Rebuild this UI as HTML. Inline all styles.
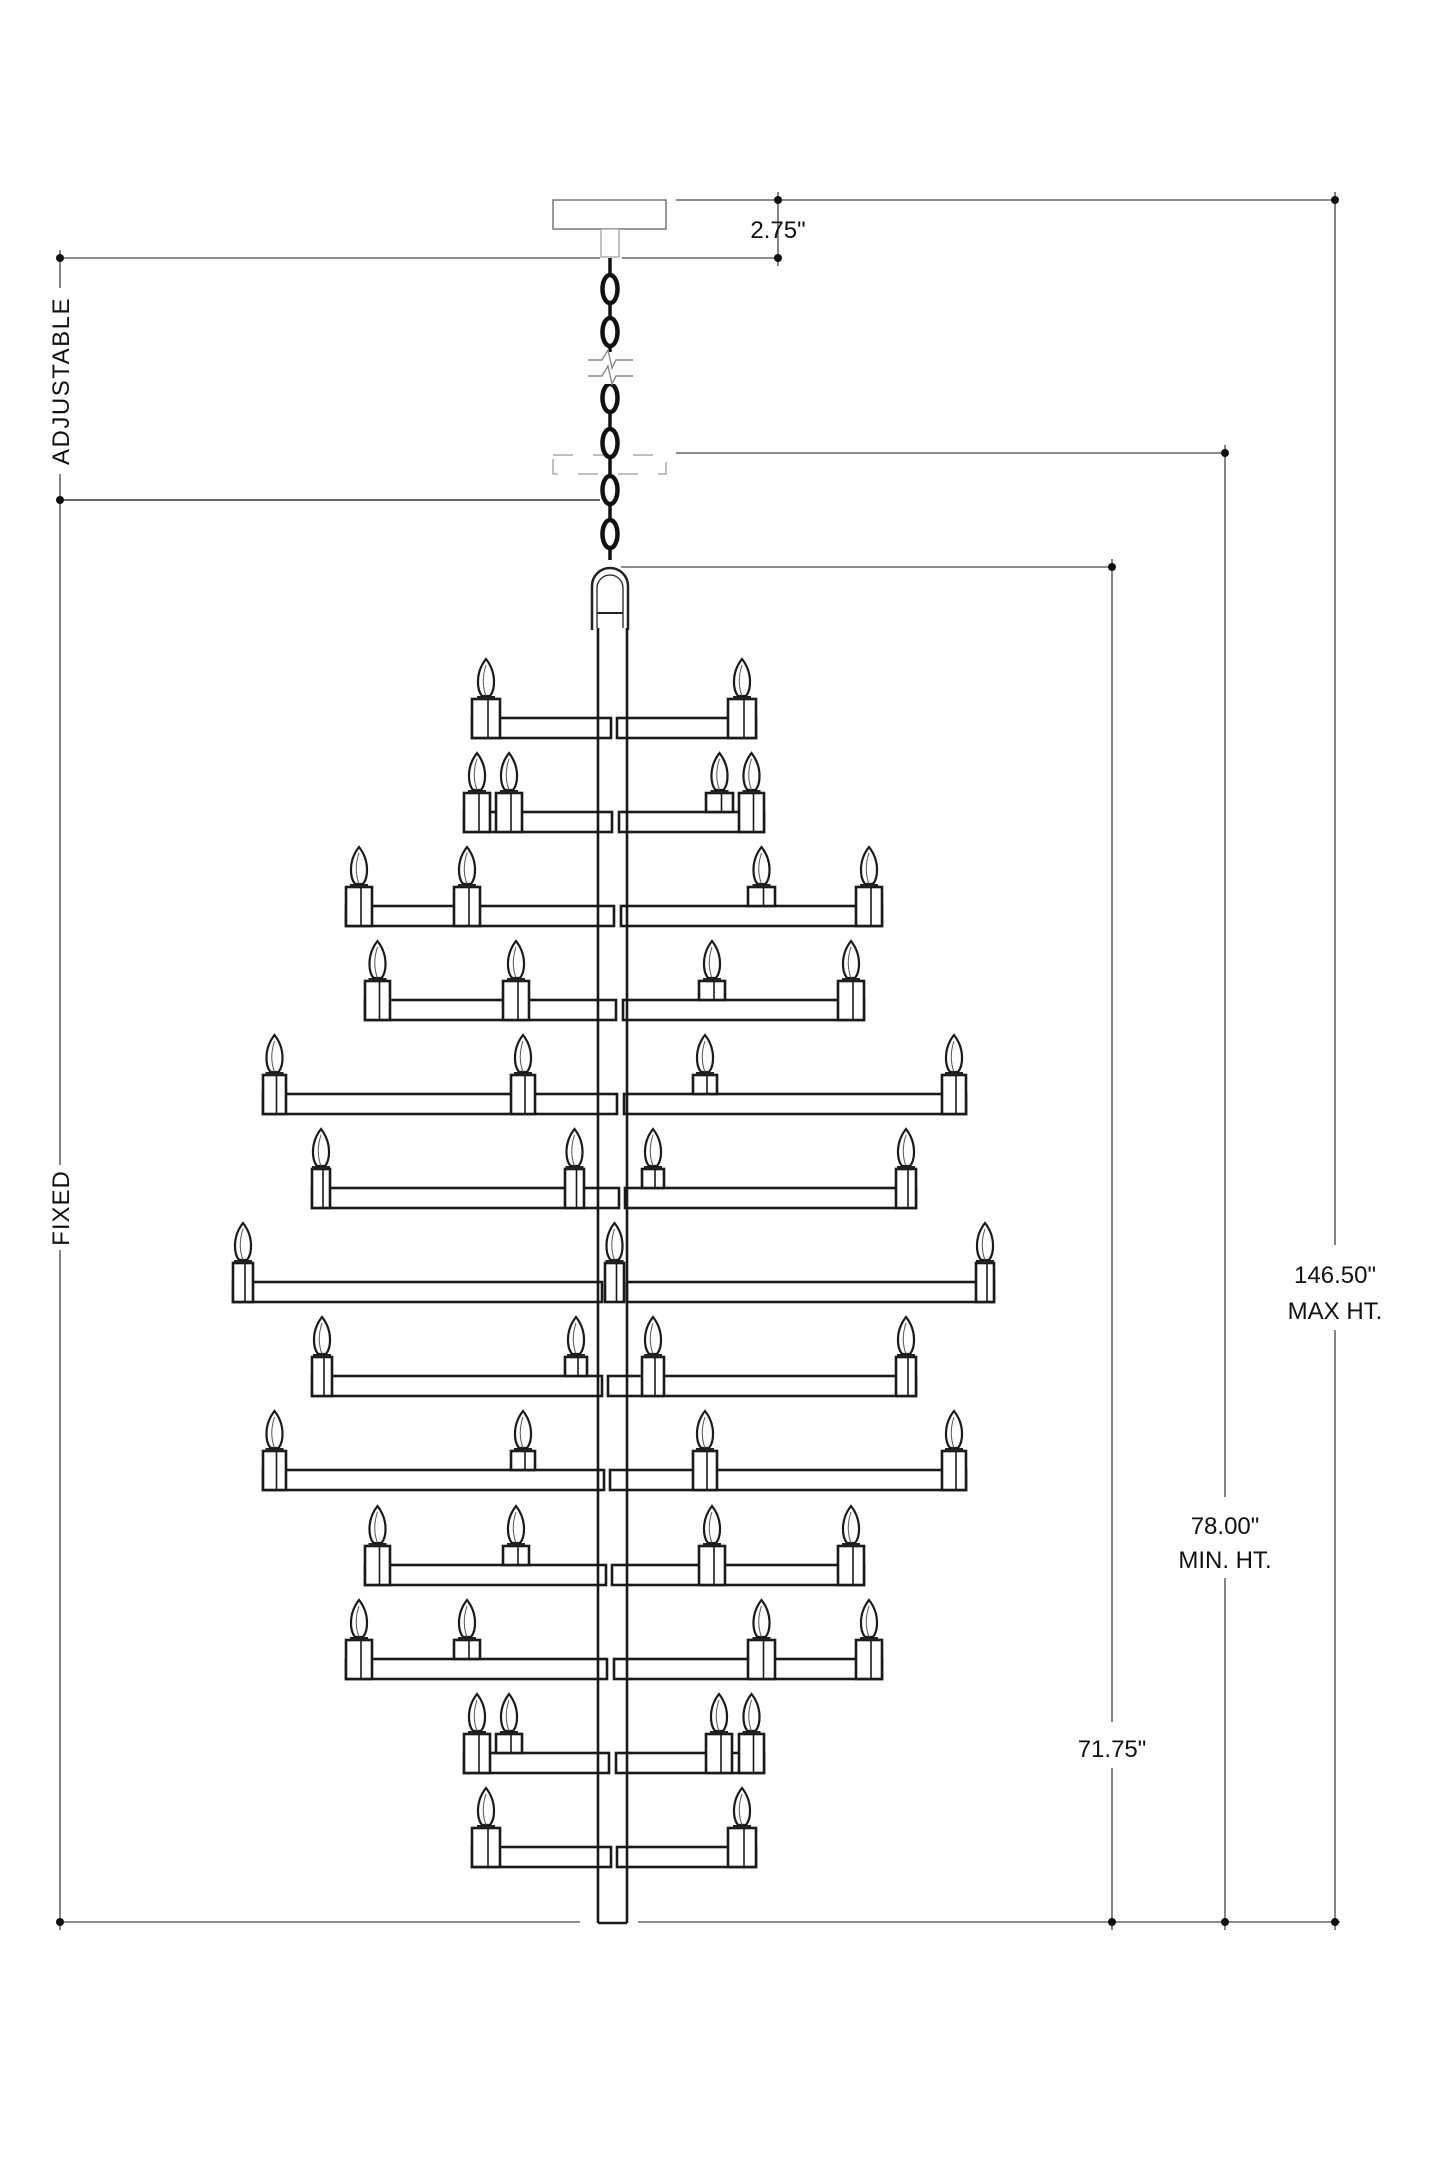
<!DOCTYPE html>
<html><head><meta charset="utf-8"><style>
html,body{margin:0;padding:0;background:#fff;}
svg{display:block;}
text{font-family:"Liberation Sans",sans-serif;fill:#111;}
</style></head><body>
<svg id="s" width="1445" height="2168" viewBox="0 0 1445 2168" xmlns="http://www.w3.org/2000/svg">
<rect width="1445" height="2168" fill="#fff"/>
<g stroke="#666" stroke-width="1.6" fill="none">
  <line x1="676" y1="200" x2="1337" y2="200"/>
  <line x1="60" y1="258" x2="600" y2="258"/>
  <line x1="622" y1="258" x2="778" y2="258"/>
  <line x1="778" y1="192" x2="778" y2="266"/>
  <line x1="1335" y1="192" x2="1335" y2="1245"/>
  <line x1="1335" y1="1330" x2="1335" y2="1930"/>
  <line x1="676" y1="453" x2="1227" y2="453"/>
  <line x1="1225" y1="445" x2="1225" y2="1497"/>
  <line x1="1225" y1="1578" x2="1225" y2="1930"/>
  <line x1="621" y1="567" x2="1114" y2="567"/>
  <line x1="1112" y1="559" x2="1112" y2="1722"/>
  <line x1="1112" y1="1768" x2="1112" y2="1930"/>
  <line x1="60" y1="500" x2="600" y2="500" stroke="#333"/>
  <line x1="60" y1="250" x2="60" y2="288"/>
  <line x1="60" y1="474" x2="60" y2="1165"/>
  <line x1="60" y1="1250" x2="60" y2="1930"/>
  <line x1="60" y1="1922" x2="580" y2="1922"/>
  <line x1="638" y1="1922" x2="1340" y2="1922"/>
</g>
<g fill="#111">
  <circle cx="778" cy="200" r="4"/><circle cx="1335" cy="200" r="4"/>
  <circle cx="778" cy="258" r="4"/><circle cx="60" cy="258" r="4"/>
  <circle cx="60" cy="500" r="4"/><circle cx="1225" cy="453" r="4"/>
  <circle cx="1112" cy="567" r="4"/>
  <circle cx="60" cy="1922" r="4"/><circle cx="1112" cy="1922" r="4"/>
  <circle cx="1225" cy="1922" r="4"/><circle cx="1335" cy="1922" r="4"/>
</g>
<rect x="553" y="200" width="113" height="29" fill="#fff" stroke="#777" stroke-width="1.5"/>
<rect x="601" y="229" width="18" height="28" fill="#fff" stroke="#999" stroke-width="1.2"/>
<rect x="553" y="455" width="113" height="19" fill="none" stroke="#aaa" stroke-width="1.5" stroke-dasharray="20,20"/>
<g stroke="#111" fill="none">
  <line x1="610" y1="258" x2="610" y2="560" stroke-width="3.5"/>
  <ellipse cx="610" cy="289" rx="7.5" ry="14" stroke-width="4.5" fill="#fff"/>
  <ellipse cx="610" cy="332" rx="7.5" ry="14" stroke-width="4.5" fill="#fff"/>
  <ellipse cx="610" cy="398" rx="7.5" ry="14" stroke-width="4.5" fill="#fff"/>
  <ellipse cx="610" cy="443" rx="7.5" ry="14" stroke-width="4.5" fill="#fff"/>
  <ellipse cx="610" cy="490" rx="7.5" ry="14" stroke-width="4.5" fill="#fff"/>
  <ellipse cx="610" cy="534" rx="7.5" ry="14" stroke-width="4.5" fill="#fff"/>
</g>
<rect x="590" y="352" width="40" height="32" fill="#fff"/>
<g stroke="#888" fill="none" stroke-width="1.4">
  <polyline points="588,360 602,360 608,350 612,368 616,360 633,360"/>
  <polyline points="588,376 602,376 608,366 612,384 616,376 633,376"/>
</g>
<path d="M592,630 L592,586 A18,18 0 0 1 628,586 L628,630" fill="#fff" stroke="#222" stroke-width="2.5"/>
<path d="M597,628 L597,588 A13,13 0 0 1 623,588 L623,628" fill="none" stroke="#222" stroke-width="1.3"/>
<line x1="597" y1="613" x2="623" y2="613" stroke="#222" stroke-width="2"/>
<g id="lamp"></g>
<rect x="44" y="288" width="32" height="186" fill="#fff"/>
<text x="0" y="0" font-size="24" text-anchor="middle" transform="translate(69,381) rotate(-90)" letter-spacing="1.5">ADJUSTABLE</text>
<rect x="44" y="1165" width="32" height="85" fill="#fff"/>
<text x="0" y="0" font-size="24" text-anchor="middle" transform="translate(69,1208) rotate(-90)" letter-spacing="1">FIXED</text>
<text x="778" y="238" font-size="24" text-anchor="middle">2.75"</text>
<text x="1335" y="1283" font-size="24" text-anchor="middle">146.50"</text>
<text x="1335" y="1319" font-size="24" text-anchor="middle">MAX HT.</text>
<text x="1225" y="1534" font-size="24" text-anchor="middle">78.00"</text>
<text x="1225" y="1568" font-size="24" text-anchor="middle">MIN. HT.</text>
<text x="1112" y="1757" font-size="24" text-anchor="middle">71.75"</text>
</svg>
<script>
var T=[
[738,[472,611],[617,756],[[472,500,1],[728,756,1]]],
[832,[464,612],[619,764],[[464,490,1],[496,522,1],[706,733,0],[739,764,1]]],
[926,[346,614],[621,882],[[346,372,1],[454,480,1],[748,775,0],[856,882,1]]],
[1020,[365,616],[623,864],[[365,390,1],[503,529,1],[699,725,0],[838,864,1]]],
[1114,[263,617],[624,966],[[263,286,1],[511,535,1],[693,717,0],[942,966,1]]],
[1208,[312,619],[625,916],[[312,330,1],[565,584,1],[642,664,0],[896,916,1]]],
[1302,[233,602],[627,994],[[233,253,1],[605,624,1],[976,994,1]]],
[1396,[312,602],[608,916],[[312,332,1],[565,587,0],[642,664,1],[896,916,1]]],
[1490,[263,604],[610,966],[[263,286,1],[511,535,0],[693,717,1],[942,966,1]]],
[1585,[365,606],[612,864],[[365,390,1],[503,529,0],[699,725,1],[838,864,1]]],
[1679,[346,607],[614,882],[[346,372,1],[454,480,0],[748,775,1],[856,882,1]]],
[1773,[464,609],[616,764],[[464,490,1],[496,522,0],[706,732,1],[739,764,1]]],
[1867,[472,611],[617,756],[[472,500,1],[728,756,1]]]
];
var h='';
var S='stroke="#1a1a1a" stroke-width="2.6"';
T.forEach(function(t){var B=t[0];
 h+='<rect x="'+t[1][0]+'" y="'+(B-20)+'" width="'+(t[1][1]-t[1][0])+'" height="20" fill="#fff" '+S+'/>';
 h+='<rect x="'+t[2][0]+'" y="'+(B-20)+'" width="'+(t[2][1]-t[2][0])+'" height="20" fill="#fff" '+S+'/>';
});
h+='<line x1="598" y1="628" x2="598" y2="1923" '+S+'/><line x1="627" y1="628" x2="627" y2="1923" '+S+'/><line x1="598" y1="1923" x2="627" y2="1923" '+S+'/>';
T.forEach(function(t){var B=t[0];
 t[3].forEach(function(c){var x1=c[0],x2=c[1],w=x2-x1,cx=(x1+x2)/2,top=B-39,hh=c[2]?39:19;
  h+='<rect x="'+x1+'" y="'+top+'" width="'+w+'" height="'+hh+'" fill="#fff" '+S+'/>';
  h+='<line x1="'+(cx+2)+'" y1="'+top+'" x2="'+(cx+2)+'" y2="'+(top+hh)+'" stroke="#1a1a1a" stroke-width="1.6"/>';
  h+='<rect x="'+(cx-9)+'" y="'+(top-3)+'" width="18" height="3" fill="#222"/>';
  var ft=top-40,fb=top-3;
  h+='<path d="M'+cx+','+ft+' C'+(cx-11)+','+(ft+14)+' '+(cx-9)+','+(fb-6)+' '+(cx-4)+','+fb+' L'+(cx+4)+','+fb+' C'+(cx+9)+','+(fb-6)+' '+(cx+11)+','+(ft+14)+' '+cx+','+ft+' Z" fill="#fff" stroke="#1a1a1a" stroke-width="2.2"/>';
  h+='<path d="M'+cx+','+(ft+6)+' C'+(cx-4)+','+(ft+18)+' '+(cx-3)+','+(fb-8)+' '+cx+','+fb+'" fill="none" stroke="#555" stroke-width="1"/>';
 });
});
document.getElementById('lamp').innerHTML=h;
</script>
</body></html>
